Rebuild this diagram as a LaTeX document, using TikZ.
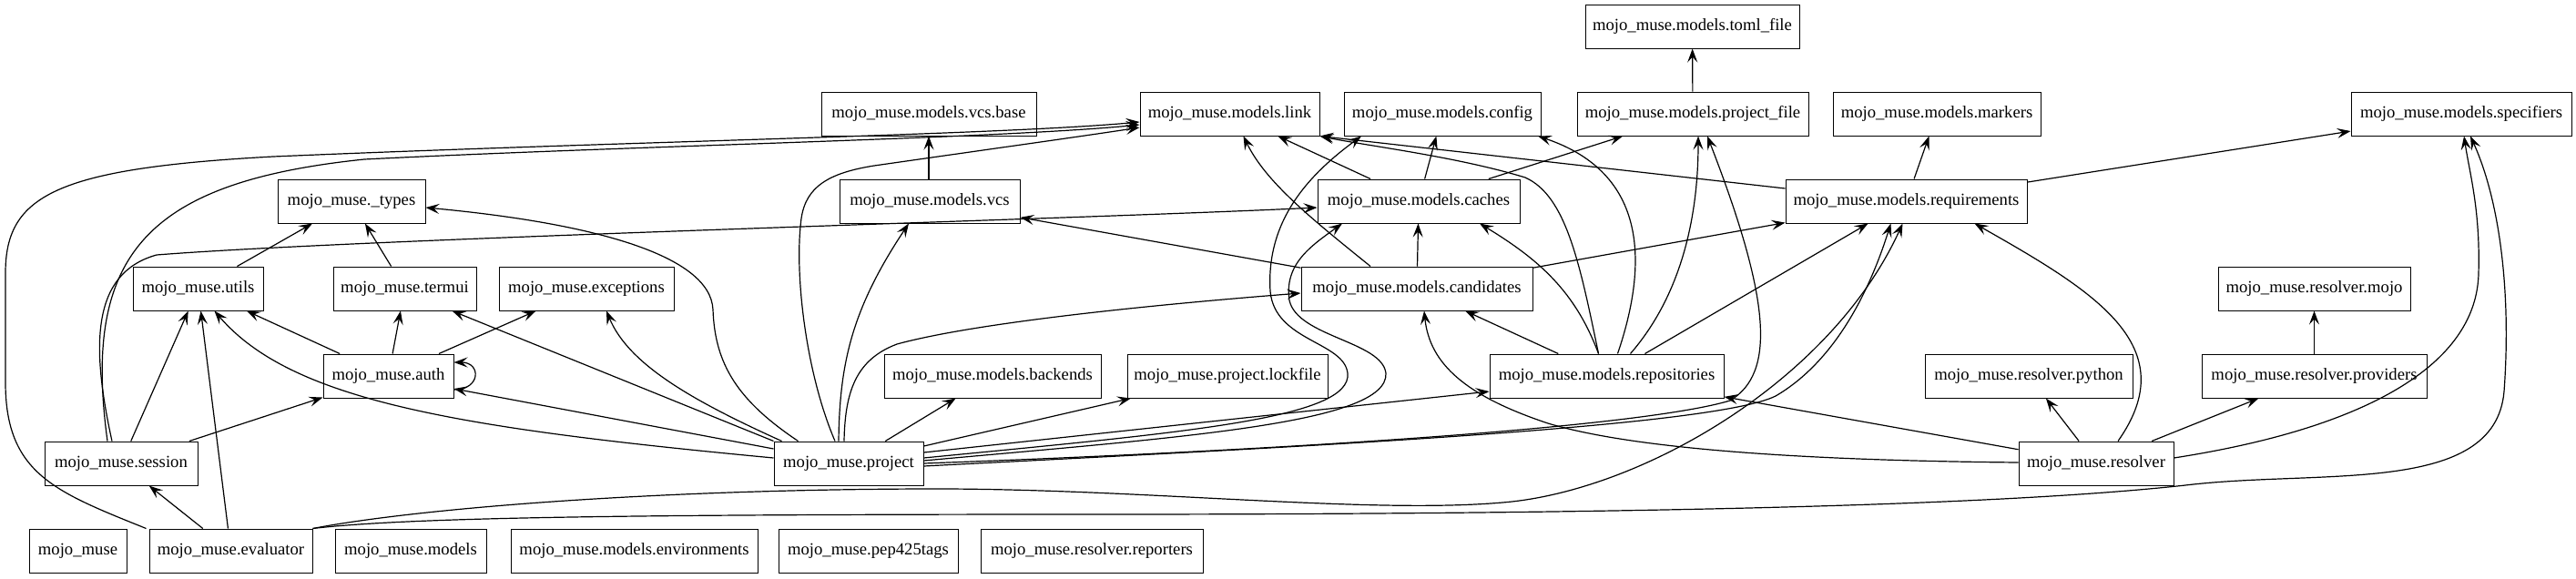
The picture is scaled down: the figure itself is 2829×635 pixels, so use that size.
\documentclass[tikz,border=0pt]{standalone}
\usepackage{fontspec}
\setmainfont{Liberation Serif}
\usetikzlibrary{arrows.meta}
\tikzset{module/.style={draw,rectangle,line width=1pt,minimum height=48pt,inner sep=2pt,
    font=\fontsize{18.67}{20}\selectfont},
    dep/.style={draw,line width=1.2pt,-{Stealth[length=15pt,width=11pt,inset=6pt]}}}

\begin{document}
\begin{tikzpicture}[x=1pt,y=-1pt]

  \useasboundingbox (0,0) rectangle (2829,635);

  % First we draw the modules

  \foreach \pos/\name/\w/\txt in {
      {(1858.5,29)/tomlfile/235/mojo\_muse.models.toml\_file},
      {(1020,125)/vcsbase/236/mojo\_muse.models.vcs.base}, {(1350.5,125)/link/197/mojo\_muse.models.link},
      {(1584,125)/config/216/mojo\_muse.models.config}, {(1859,125)/projectfile/254/mojo\_muse.models.project\_file},
      {(2127,125)/markers/228/mojo\_muse.models.markers}, {(2703,125)/specifiers/242/mojo\_muse.models.specifiers},
      {(386,221)/types/162/mojo\_muse.\_types}, {(1021,221)/vcs/198/mojo\_muse.models.vcs},
      {(1558,221)/caches/222/mojo\_muse.models.caches}, {(2093.5,221)/requirements/265/mojo\_muse.models.requirements},
      {(217.5,317)/utils/143/mojo\_muse.utils}, {(444.5,317)/termui/157/mojo\_muse.termui},
      {(644,317)/exceptions/192/mojo\_muse.exceptions}, {(1556,317)/candidates/254/mojo\_muse.models.candidates},
      {(2541.5,317)/resolvermojo/211/mojo\_muse.resolver.mojo},
      {(426.5,413)/auth/143/mojo\_muse.auth}, {(1090,413)/backends/238/mojo\_muse.models.backends},
      {(1348,413)/lockfile/220/mojo\_muse.project.lockfile}, {(1764.5,413)/repositories/257/mojo\_muse.models.repositories},
      {(2228,413)/resolverpython/228/mojo\_muse.resolver.python}, {(2541.5,413)/providers/247/mojo\_muse.resolver.providers},
      {(133,509)/session/168/mojo\_muse.session}, {(932,509)/project/164/mojo\_muse.project},
      {(2302,509)/resolver/170/mojo\_muse.resolver},
      {(85.5,605)/mojomuse/107/mojo\_muse}, {(253.5,605)/evaluator/179/mojo\_muse.evaluator},
      {(451,605)/models/166/mojo\_muse.models}, {(696.5,605)/environments/271/mojo\_muse.models.environments},
      {(953.5,605)/pep425tags/197/mojo\_muse.pep425tags}, {(1199,605)/reporters/244/mojo\_muse.resolver.reporters}}
    \node[module,minimum width=\w] (\name) at \pos {\txt};

  % Straight imports, centre to centre

  \foreach \source/\dest in {projectfile/tomlfile, utils/types, termui/types,
                             auth/utils, auth/termui, auth/exceptions,
                             session/utils, session/auth, evaluator/session, evaluator/utils,
                             project/backends, project/lockfile,
                             resolver/resolverpython, resolver/providers, providers/resolvermojo,
                             resolver/repositories, repositories/candidates, repositories/requirements,
                             candidates/vcs, candidates/caches, candidates/requirements,
                             caches/link, caches/config, caches/projectfile,
                             requirements/markers, requirements/specifiers}
    \path[dep] (\source) -- (\dest);

  \path[dep] (vcs.north -| vcsbase.south) -- (vcsbase.south);
  \path[dep] ([yshift=14pt]requirements.west) -- (link.south east);

  % mojo_muse.auth imports itself
  \path[dep] ([yshift=-15pt]auth.east) .. controls +(30pt,0pt) and +(30pt,0pt) .. ([yshift=15pt]auth.east);

  % mojo_muse.session
  \path[dep] ([xshift=-15pt]session.north) .. controls (90,280) and (160,200) .. (400,175)
    .. controls (700,160) and (1100,152) .. ([yshift=-12pt]link.west);
  \path[dep] ([xshift=-10pt]session.north) .. controls (100,380) and (100,300) .. (172,280)
    .. controls (400,262) and (1200,240) .. ([yshift=-7pt]caches.west);

  % mojo_muse.evaluator
  \path[dep] ([xshift=-3pt]evaluator.north west) .. controls (60,540) and (6,520) .. (6,420) -- (6,300)
    .. controls (6,215) and (60,185) .. (300,172) .. controls (700,155) and (1100,148) .. ([yshift=-9pt]link.west);
  \path[dep] (evaluator.north east) .. controls (450,560) and (700,538) .. (1014,537)
    .. controls (1250,536) and (1500,565) .. (1650,552)
    .. controls (1800,540) and (2010,420) .. ([xshift=-4pt]requirements.south);
  \path[dep] (evaluator.north east) .. controls (450,568) and (700,565) .. (1200,565)
    .. controls (1800,565) and (2200,555) .. (2400,533)
    .. controls (2550,515) and (2740,545) .. (2750,430)
    .. controls (2758,320) and (2745,220) .. ([xshift=10pt]specifiers.south);

  % mojo_muse.project
  \path[dep] (project.north west) -- ([xshift=52pt]termui.south);
  \path[dep] ([xshift=9pt]project.north west) .. controls (760,440) and (690,400) .. ([xshift=22pt]exceptions.south);
  \path[dep] ([xshift=27pt]project.north west) .. controls (810,440) and (785,400) .. (783,340)
    .. controls (780,280) and (650,245) .. ([yshift=-7pt]types.east);
  \path[dep] ([yshift=16pt]project.west) -- ([yshift=-14pt]auth.east);
  \path[dep] ([yshift=6pt]project.west) .. controls (500,470) and (320,440) .. ([xshift=18pt]utils.south);
  \path[dep] ([xshift=-15pt]project.north) .. controls (885,410) and (872,300) .. (880,240)
    .. controls (885,205) and (910,190) .. (960,182)
    .. controls (1100,162) and (1200,148) .. ([yshift=-15pt]link.west);
  \path[dep] ([xshift=-11pt]project.north) .. controls (922,400) and (935,340) .. ([xshift=-23pt]vcs.south);
  \path[dep] ([xshift=-5pt]project.north) .. controls (928,430) and (940,395) .. (985,378)
    .. controls (1080,352) and (1300,332) .. ([yshift=-5pt]candidates.west);
  \path[dep] ([yshift=12pt]project.east) -- ([yshift=-17pt]repositories.west);
  \path[dep] ([yshift=6pt]project.east) .. controls (1300,475) and (1485,460) .. (1480,410)
    .. controls (1476,375) and (1400,375) .. (1395,320)
    .. controls (1390,240) and (1440,190) .. ([xshift=-89pt]config.south);
  \path[dep] ([yshift=3pt]project.east) .. controls (1300,480) and (1525,465) .. (1522,410)
    .. controls (1518,375) and (1425,370) .. (1416,330)
    .. controls (1410,290) and (1440,270) .. ([xshift=-84pt]caches.south);
  \path[dep] (project.east) .. controls (1400,495) and (1800,470) .. (1900,440)
    .. controls (1950,410) and (1945,330) .. ([xshift=16pt]projectfile.south);
  \path[dep] ([yshift=-3pt]project.east) .. controls (1400,492) and (1880,470) .. (1950,435)
    .. controls (2010,400) and (2050,330) .. ([xshift=-17pt]requirements.south);

  % mojo_muse.models.candidates, caches and repositories
  \path[dep] ([xshift=-51pt]candidates.north) .. controls (1440,240) and (1390,200) .. ([xshift=15pt]link.south);
  \path[dep] ([xshift=-9pt]repositories.north) .. controls (1730,320) and (1690,285) .. ([xshift=67pt]caches.south);
  \path[dep] ([xshift=-9pt]repositories.north) .. controls (1735,290) and (1720,215) .. (1675,195)
    .. controls (1600,172) and (1500,160) .. (link.south east);
  \path[dep] ([xshift=12pt]repositories.north) .. controls (1810,290) and (1810,190) .. ([xshift=105pt]config.south);
  \path[dep] ([xshift=26pt]repositories.north) .. controls (1850,320) and (1865,230) .. ([xshift=6pt]projectfile.south);

  % mojo_muse.resolver
  \path[dep] ([xshift=24pt]resolver.north) .. controls (2400,380) and (2300,320) .. ([xshift=75pt]requirements.south);
  \path[dep] ([yshift=1pt]resolver.west) .. controls (2000,506) and (1800,495) .. (1700,465)
    .. controls (1610,435) and (1570,400) .. ([xshift=8pt]candidates.south);
  \path[dep] ([yshift=6pt]resolver.east) .. controls (2600,470) and (2720,400) .. (2722,300)
    .. controls (2724,230) and (2712,190) .. ([xshift=3pt]specifiers.south);

\end{tikzpicture}
\end{document}
